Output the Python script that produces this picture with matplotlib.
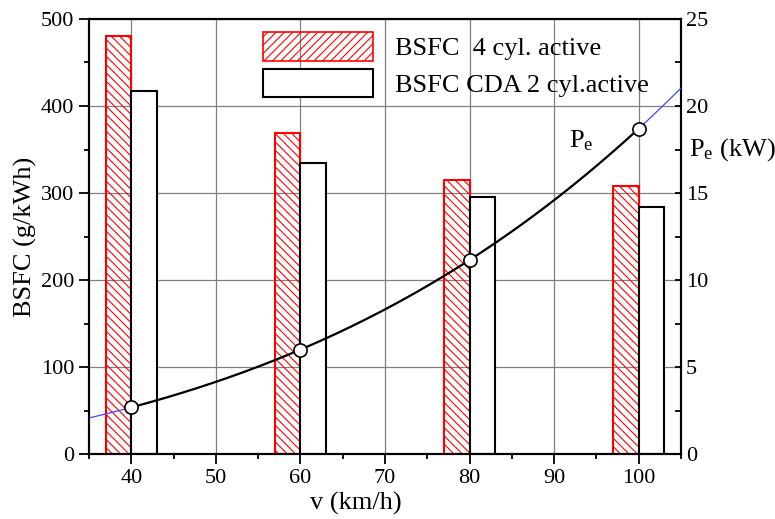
import matplotlib
matplotlib.use('Agg')
import matplotlib.pyplot as plt
import matplotlib.patches as mpatches
from matplotlib.ticker import MultipleLocator
import numpy as np

plt.rcParams['font.family'] = 'Liberation Serif'
plt.rcParams['mathtext.fontset'] = 'custom'
plt.rcParams['mathtext.rm'] = 'Liberation Serif'
plt.rcParams['mathtext.it'] = 'Liberation Serif:italic'
plt.rcParams['hatch.linewidth'] = 0.8

# data
speed = [40, 60, 80, 100]
bsfc_4cyl = [481, 369, 315, 308]
bsfc_cda = [417, 335, 295, 284]
power = [2.68, 6.0, 11.15, 18.7]

fig = plt.figure(figsize=(7.75, 5.19), dpi=100)
ax = fig.add_axes([0.1148, 0.1252, 0.7639, 0.8382])

ax.grid(True, which='major', color='#808080', linewidth=0.9, zorder=0)
ax.set_axisbelow(True)

ax.bar(speed, bsfc_4cyl, width=-3, align='edge', facecolor='none',
       edgecolor='red', hatch='\\\\\\\\', linewidth=1.5, zorder=2)
ax.bar(speed, bsfc_cda, width=3, align='edge', facecolor='white',
       edgecolor='black', linewidth=1.5, zorder=2)

ax.set_xlim(35, 105)
ax.set_ylim(0, 500)
ax.xaxis.set_major_locator(MultipleLocator(10))
ax.xaxis.set_minor_locator(MultipleLocator(5))
ax.yaxis.set_major_locator(MultipleLocator(100))
ax.yaxis.set_minor_locator(MultipleLocator(50))
ax.set_xticks([40, 50, 60, 70, 80, 90, 100])
ax.tick_params(which='major', direction='out', length=7, width=1.3, labelsize=16)
ax.tick_params(which='minor', direction='out', length=3.5, width=1.3)
ax.tick_params(top=False, right=False, which='both')
for s in ax.spines.values():
    s.set_linewidth(1.5)

ax.set_xlabel('v (km/h)', fontsize=19)
ax.xaxis.set_label_coords(0.451, -0.088)
ax.set_ylabel('BSFC (g/kWh)', fontsize=19)
ax.yaxis.set_label_coords(-0.088, 0.5)

ax2 = ax.twinx()
ax2.set_ylim(0, 25)
ax2.yaxis.set_major_locator(MultipleLocator(5))
ax2.yaxis.set_minor_locator(MultipleLocator(2.5))
ax2.tick_params(which='major', direction='in', length=4, width=1.3, labelsize=16)
ax2.tick_params(which='minor', direction='in', length=4, width=1.3)
for s in ax2.spines.values():
    s.set_linewidth(1.5)

coef = np.polyfit(speed, power, 3)
v_full = np.linspace(35, 105, 200)
v_in = np.linspace(40, 100, 200)
ax2.plot(v_full, np.polyval(coef, v_full), color='#4444ff', linewidth=0.9, zorder=3)
ax2.plot(v_in, np.polyval(coef, v_in), color='black', linewidth=1.6, zorder=4)
ax2.plot(speed, power, linestyle='none', marker='o', markersize=9.5,
         markerfacecolor='white', markeredgecolor='black', markeredgewidth=1.2, zorder=5)

ax2.text(91.75, 17.6, r'P$_\mathrm{e}$', fontsize=19, ha='left', va='baseline')
ax2.text(105.9, 17.5, r'P$_\mathrm{e}$ (kW)', fontsize=19, ha='left', va='center',
         clip_on=False)

h1 = mpatches.Patch(facecolor='none', edgecolor='red', hatch='////', linewidth=1.2)
h2 = mpatches.Patch(facecolor='white', edgecolor='black', linewidth=1.5)
ax2.legend([h1, h2], ['BSFC  4 cyl. active', 'BSFC CDA 2 cyl.active'],
           loc='upper left', bbox_to_anchor=(0.294, 0.97), frameon=False,
           fontsize=19, handlelength=4.17, handleheight=1.3, labelspacing=0.3,
           handletextpad=0.83, borderpad=0, borderaxespad=0)

fig.savefig('out.png', dpi=100)
